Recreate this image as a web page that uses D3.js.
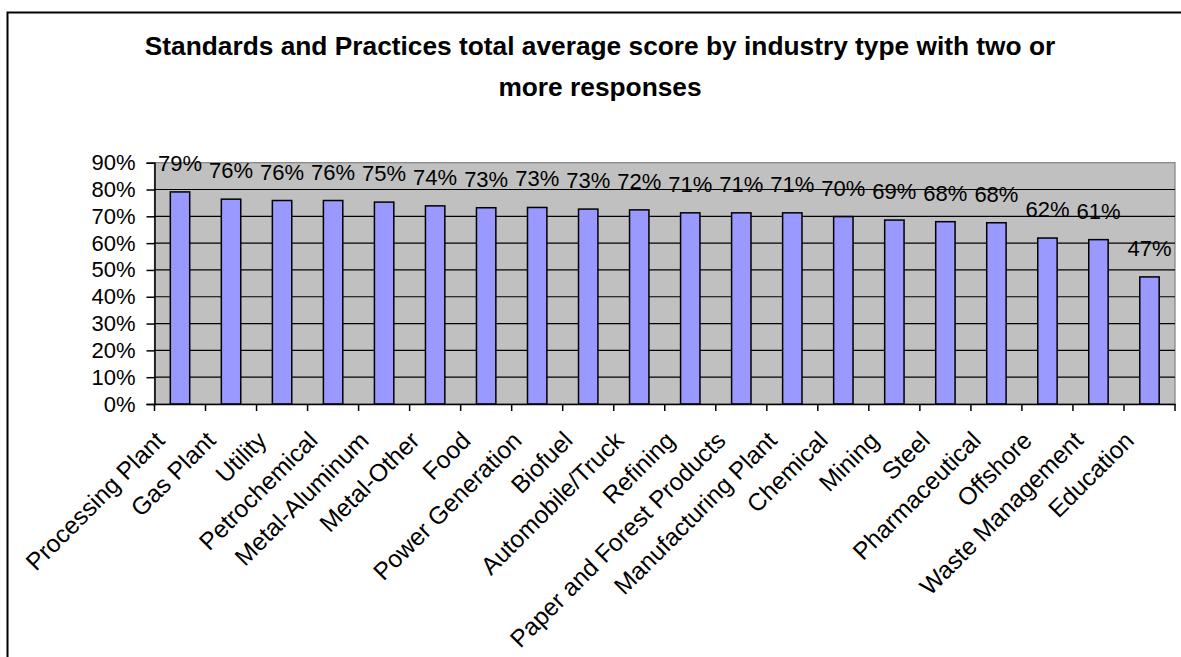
<!DOCTYPE html>
<html><head><meta charset="utf-8">
<script src="https://cdn.jsdelivr.net/npm/d3@7"></script>
<style>html,body{margin:0;padding:0;background:#fff;}svg{display:block;}</style>
</head><body>
<svg id="chart" width="1181" height="657"></svg>
<script>
const titleLines = ["Standards and Practices total average score by industry type with two or", "more responses"];
const categories = ["Processing Plant","Gas Plant","Utility","Petrochemical","Metal-Aluminum","Metal-Other","Food","Power Generation","Biofuel","Automobile/Truck","Refining","Paper and Forest Products","Manufacturing Plant","Chemical","Mining","Steel","Pharmaceutical","Offshore","Waste Management","Education"];
const scores = [0.791,0.764,0.759,0.759,0.753,0.739,0.732,0.733,0.727,0.724,0.713,0.713,0.713,0.699,0.686,0.680,0.676,0.619,0.613,0.474];
const yTicks = [0,0.1,0.2,0.3,0.4,0.5,0.6,0.7,0.8,0.9];

const svg = d3.select("#chart");
const font = "'Liberation Sans', Arial, sans-serif";
const plot = {left:154.5, right:1175, top:162.7, bottom:404};

// outer frame (extends beyond the window on right/bottom)
svg.append("rect").attr("x",7.5).attr("y",12.5).attr("width",1200).attr("height",700)
  .attr("fill","#fff").attr("stroke","#000").attr("stroke-width",2);

// title
svg.append("g").selectAll("text").data(titleLines).join("text")
  .attr("x",600).attr("y",(d,i)=>55+i*41)
  .attr("text-anchor","middle").attr("font-family",font).attr("font-weight","bold")
  .attr("font-size",26.3).attr("fill","#000").text(d=>d);

const x = d3.scaleBand().domain(categories).range([plot.left, plot.right]).paddingInner(0.62).paddingOuter(0.31);
const xb = d3.scaleBand().domain(categories).range([plot.left, plot.right]);
const y = d3.scaleLinear().domain([0,0.9]).range([plot.bottom, plot.top]);

// plot background
svg.append("rect").attr("x",plot.left).attr("y",plot.top)
  .attr("width",plot.right-plot.left).attr("height",plot.bottom-plot.top)
  .attr("fill","#C0C0C0").attr("stroke","#808080").attr("stroke-width",1.2);

// gridlines
svg.append("g").selectAll("line").data(yTicks.filter(v=>v>0 && v<0.9)).join("line")
  .attr("x1",plot.left).attr("x2",plot.right)
  .attr("y1",d=>y(d)).attr("y2",d=>y(d))
  .attr("stroke","#000").attr("stroke-width",1.2);

// bars
svg.append("g").selectAll("rect").data(categories).join("rect")
  .attr("x",d=>x(d)).attr("width",x.bandwidth())
  .attr("y",(d,i)=>y(scores[i])).attr("height",(d,i)=>y(0)-y(scores[i]))
  .attr("fill","#9999FF").attr("stroke","#000").attr("stroke-width",1.5);

// y axis
const yAxis = svg.append("g").attr("transform",`translate(${plot.left},0)`)
  .call(d3.axisLeft(y).tickValues(yTicks).tickFormat(d3.format(".0%")).tickSize(8).tickPadding(11));
yAxis.select(".domain").attr("stroke","#000").attr("stroke-width",1.5);
yAxis.selectAll(".tick line").attr("stroke","#000").attr("stroke-width",1.5);
yAxis.selectAll(".tick text").attr("font-family",font).attr("font-size",22).attr("fill","#000");

// x axis
const xAxis = svg.append("g").attr("transform",`translate(0,${plot.bottom})`)
  .call(d3.axisBottom(xb).tickSize(0).tickFormat(""));
xAxis.select(".domain").attr("stroke","#000").attr("stroke-width",1.5);
const boundaries = d3.range(categories.length+1).map(i=> i<categories.length ? xb(categories[i]) : plot.right);
svg.append("g").selectAll("line").data(boundaries).join("line")
  .attr("x1",d=>d).attr("x2",d=>d).attr("y1",plot.bottom).attr("y2",plot.bottom+7)
  .attr("stroke","#000").attr("stroke-width",1.5);

// category labels
svg.append("g").selectAll("text").data(categories).join("text")
  .attr("transform",d=>`translate(${xb(d)+xb.bandwidth()/2-14},442) rotate(-45)`)
  .attr("text-anchor","end").attr("font-family",font).attr("font-size",24.5).attr("fill","#000")
  .text(d=>d);

// data labels
svg.append("g").selectAll("text").data(categories).join("text")
  .attr("x",d=>xb(d)+xb.bandwidth()/2).attr("y",(d,i)=>y(scores[i])-21)
  .attr("text-anchor","middle").attr("font-family",font).attr("font-size",22).attr("fill","#000")
  .text((d,i)=>d3.format(".0%")(scores[i]));
</script>
</body></html>
